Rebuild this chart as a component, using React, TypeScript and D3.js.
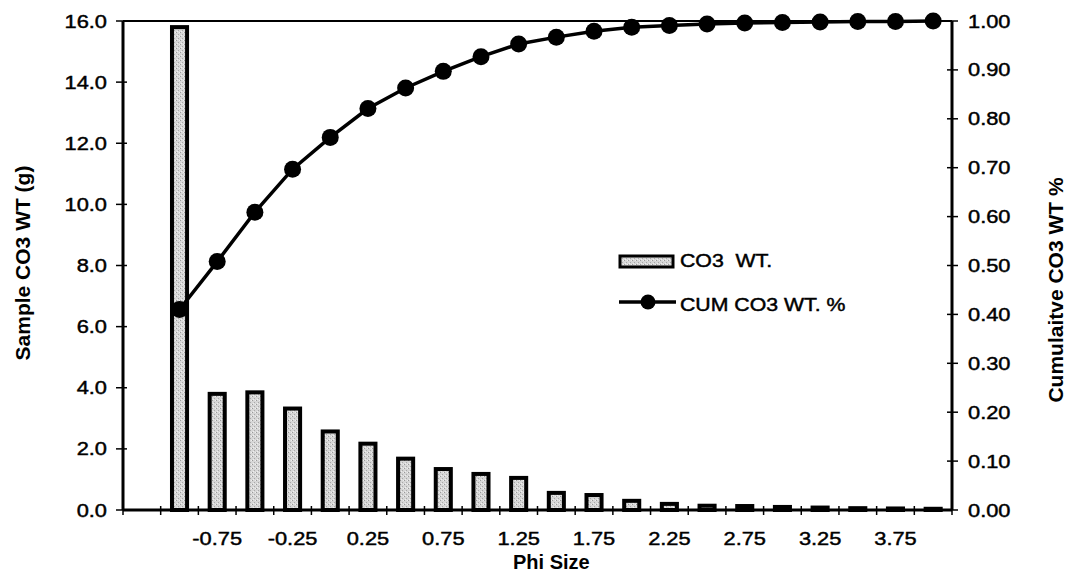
import React from "react";
import * as d3 from "d3";

const categories = ["", "-1.00", "-0.75", "-0.50", "-0.25", "0.00", "0.25", "0.50", "0.75", "1.00", "1.25", "1.50", "1.75", "2.00", "2.25", "2.50", "2.75", "3.00", "3.25", "3.50", "3.75", "4.00"];
const co3Wt = [null, 15.8, 3.8, 3.85, 3.32, 2.57, 2.17, 1.68, 1.34, 1.18, 1.05, 0.56, 0.49, 0.3, 0.2, 0.14, 0.13, 0.1, 0.08, 0.06, 0.05, 0.04];
const cumWt = [null, 0.41, 0.508, 0.609, 0.697, 0.762, 0.821, 0.863, 0.897, 0.927, 0.953, 0.967, 0.979, 0.987, 0.991, 0.994, 0.996, 0.997, 0.998, 0.999, 0.999, 1.0];
const leftTicks = [0, 2, 4, 6, 8, 10, 12, 14, 16];
const rightTicks = [0, 0.1, 0.2, 0.3, 0.4, 0.5, 0.6, 0.7, 0.8, 0.9, 1.0];
const shownLabels = ["-0.75", "-0.25", "0.25", "0.75", "1.25", "1.75", "2.25", "2.75", "3.25", "3.75"];

const W = 1066, H = 573;
const L = 123, R = 952, T = 21, B = 510;
const FONT = "'Liberation Sans', Arial, Helvetica, sans-serif";
const SX = 1.18;

export default function App() {
  const x = d3.scaleBand<string>().domain(categories.map((_, i) => String(i))).range([L, R]).padding(0);
  const yL = d3.scaleLinear().domain([0, 16]).range([B, T]);
  const yR = d3.scaleLinear().domain([0, 1]).range([B, T]);
  const bw = x.bandwidth();
  const barW = bw * 0.4;

  const pts = cumWt
    .map((v, i) => (v == null ? null : ([x(String(i))! + bw / 2, yR(v)] as [number, number])))
    .filter((p) => p != null) as [number, number][];
  const line = d3.line<[number, number]>().x((d) => d[0]).y((d) => d[1]);

  const boundaries = d3.range(categories.length + 1).map((i) => L + i * bw);

  const tickText = (tx: number, ty: number, anchor: string, s: string, key: string, sx = SX) => (
    <text key={key} transform={`translate(${tx},${ty}) scale(${sx},1)`} textAnchor={anchor} fontSize={18.5} fontFamily={FONT} fill="#000" stroke="#000" strokeWidth={0.45} style={{ whiteSpace: "pre" }}>
      {s}
    </text>
  );

  return (
    <svg width={W} height={H} style={{ position: "absolute", left: 0, top: 0, background: "#fff" }}>
      <defs>
        <pattern id="stipple" width="4" height="4" patternUnits="userSpaceOnUse">
          <rect width="4" height="4" fill="#d6d6d6" />
          <rect x="0" y="0" width="1" height="1" fill="#9a9a9a" />
          <rect x="2" y="2" width="1" height="1" fill="#a8a8a8" />
          <rect x="3" y="0" width="1" height="1" fill="#efefef" />
          <rect x="1" y="3" width="1" height="1" fill="#efefef" />
        </pattern>
      </defs>

      {/* bars */}
      {co3Wt.map((v, i) =>
        v == null ? null : (
          <rect
            key={"b" + i}
            x={x(String(i))! + bw / 2 - barW / 2}
            y={yL(v)}
            width={barW}
            height={B - yL(v)}
            fill="url(#stipple)"
            stroke="#000"
            strokeWidth={4}
          />
        )
      )}

      {/* frame */}
      <line x1={L} x2={R} y1={T} y2={T} stroke="#000" strokeWidth={2} />
      <line x1={L} x2={L} y1={T} y2={B} stroke="#000" strokeWidth={3} />
      <line x1={R} x2={R} y1={T} y2={B} stroke="#000" strokeWidth={3} />
      <line x1={L} x2={R} y1={B} y2={B} stroke="#000" strokeWidth={3} />

      {/* left ticks */}
      {leftTicks.map((t) => (
        <g key={"lt" + t}>
          <line x1={L - 7} x2={L + 4} y1={yL(t)} y2={yL(t)} stroke="#000" strokeWidth={1.5} />
          {tickText(107, yL(t) + 6.5, "end", d3.format(".1f")(t), "ltt" + t)}
        </g>
      ))}

      {/* right ticks */}
      {rightTicks.map((t) => (
        <g key={"rt" + t}>
          <line x1={R - 5} x2={R + 6} y1={yR(t)} y2={yR(t)} stroke="#000" strokeWidth={1.5} />
          {tickText(968, yR(t) + 6.5, "start", d3.format(".2f")(t), "rtt" + t)}
        </g>
      ))}

      {/* x ticks */}
      {boundaries.map((bx, i) => (
        <line key={"xt" + i} x1={bx} x2={bx} y1={B - 4} y2={B + 5} stroke="#000" strokeWidth={1.5} />
      ))}
      {categories.map((c, i) =>
        shownLabels.includes(c) ? tickText(x(String(i))! + bw / 2, 545, "middle", c, "xl" + i) : null
      )}

      {/* cumulative line */}
      <path d={line(pts) || ""} fill="none" stroke="#000" strokeWidth={3.5} />
      {pts.map((p, i) => (
        <circle key={"c" + i} cx={p[0]} cy={p[1]} r={8.5} fill="#000" />
      ))}

      {/* legend */}
      <rect x={620} y={256} width={53} height={11} fill="url(#stipple)" stroke="#000" strokeWidth={3} />
      {tickText(680, 311 - 44, "start", "CO3  WT.", "lg1", 1.15)}
      <line x1={619} x2={676} y1={302} y2={302} stroke="#000" strokeWidth={3.5} />
      <circle cx={648} cy={302} r={7.5} fill="#000" />
      {tickText(680, 311, "start", "CUM CO3 WT. %", "lg2", 1.15)}

      {/* axis titles */}
      <text x={513} y={569} fontSize={20} fontWeight="bold" fontFamily={FONT} textAnchor="start">
        Phi Size
      </text>
      <text transform={`translate(30,263) rotate(-90)`} fontSize={21} fontWeight="bold" fontFamily={FONT} textAnchor="middle">
        Sample CO3 WT (g)
      </text>
      <text transform={`translate(1063,290) rotate(-90)`} fontSize={21} fontWeight="bold" fontFamily={FONT} textAnchor="middle">
        Cumulaitve CO3 WT %
      </text>
    </svg>
  );
}
